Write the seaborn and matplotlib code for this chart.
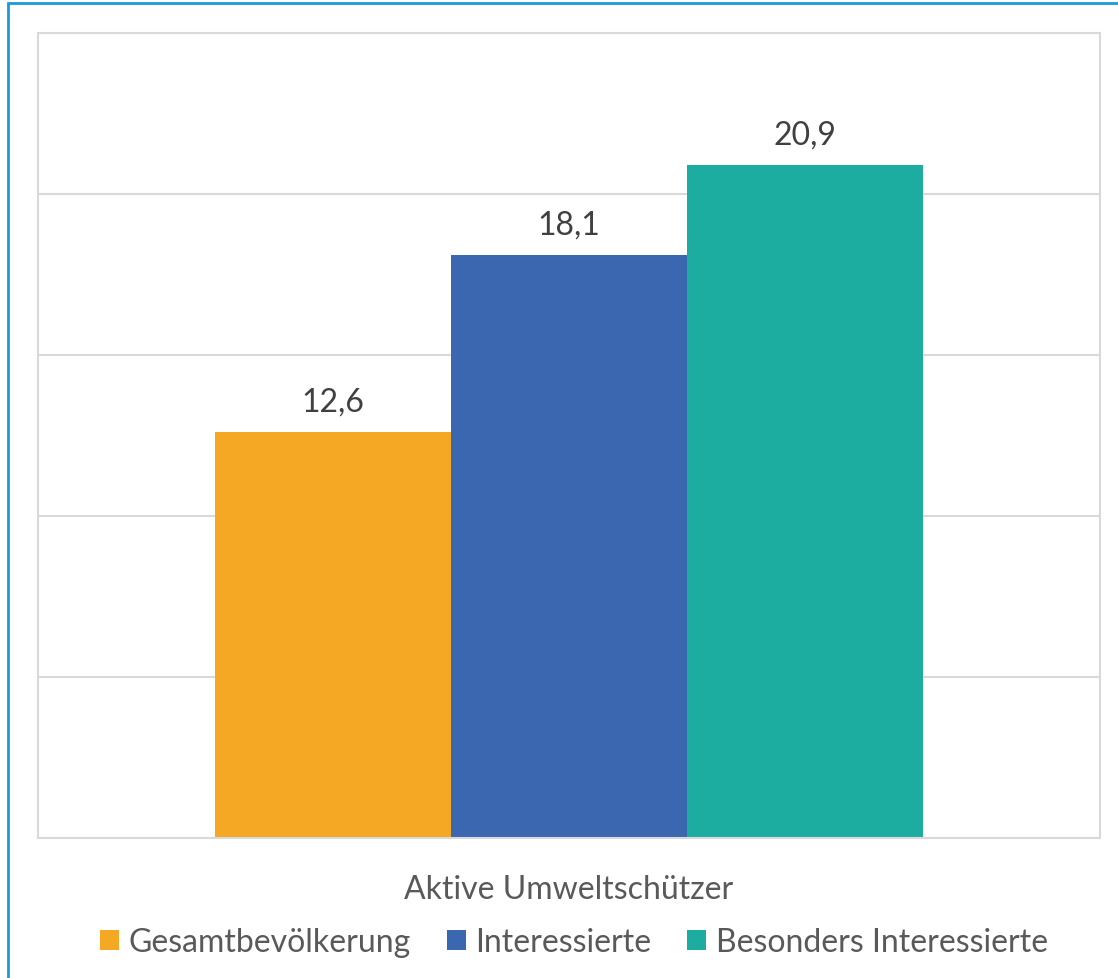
import matplotlib
matplotlib.use("Agg")
import matplotlib.pyplot as plt
import seaborn as sns
import pandas as pd
from matplotlib.patches import Rectangle, Patch

categories = ["Aktive Umweltschützer"]
groups = ["Gesamtbevölkerung", "Interessierte", "Besonders Interessierte"]
values = [12.6, 18.1, 20.9]
labels = ["12,6", "18,1", "20,9"]
colors = ["#F5A823", "#3A67B0", "#1DADA0"]

sns.set_theme(style="white")
plt.rcParams["font.family"] = ["Lato", "DejaVu Sans"]
txt = "#595959"

df = pd.DataFrame({"cat": categories * len(groups), "group": groups, "value": values})

fig = plt.figure(figsize=(11.18, 9.79), dpi=100)
ax = fig.add_axes([38/1118, 1 - 839/979, (1100-38)/1118, (839-34)/979])
sns.barplot(data=df, x="cat", y="value", hue="group", hue_order=groups,
            palette=colors, width=0.8, ax=ax, legend=False, saturation=1)
for p in ax.patches:
    p.set_edgecolor("none")
ax.set_xlim(-0.6, 0.6)
ax.set_ylim(0, 25)
ax.set_yticks([0, 5, 10, 15, 20, 25])
ax.set_yticklabels([])
ax.yaxis.grid(True, color="#d9d9d9", linewidth=1.5)
ax.set_axisbelow(True)
for s in ax.spines.values():
    s.set_color("#d9d9d9")
    s.set_linewidth(1.5)
ax.tick_params(axis="both", length=0)
ax.set_xlabel("")
ax.set_ylabel("")
ax.tick_params(axis="x", labelsize=23, labelcolor=txt, pad=26)

for cont, lab in zip(ax.containers, labels):
    ax.bar_label(cont, labels=[lab], padding=11, fontsize=23, color="#404040")

handles = [Patch(facecolor=c, edgecolor="none") for c in colors]
fig.legend(handles, groups, loc="center", bbox_to_anchor=(574/1118, 1 - 943/979),
           ncol=3, frameon=False, fontsize=23, labelcolor=txt,
           handlelength=0.6, handleheight=0.6, handletextpad=0.3, columnspacing=1.12)

fig.patches.append(Rectangle((8/1118, -0.1), 1.2, 1 - 4/979 + 0.1,
                             transform=fig.transFigure, fill=False,
                             edgecolor="#1A9BD7", linewidth=2, zorder=10))

fig.savefig("out.png", dpi=100)
